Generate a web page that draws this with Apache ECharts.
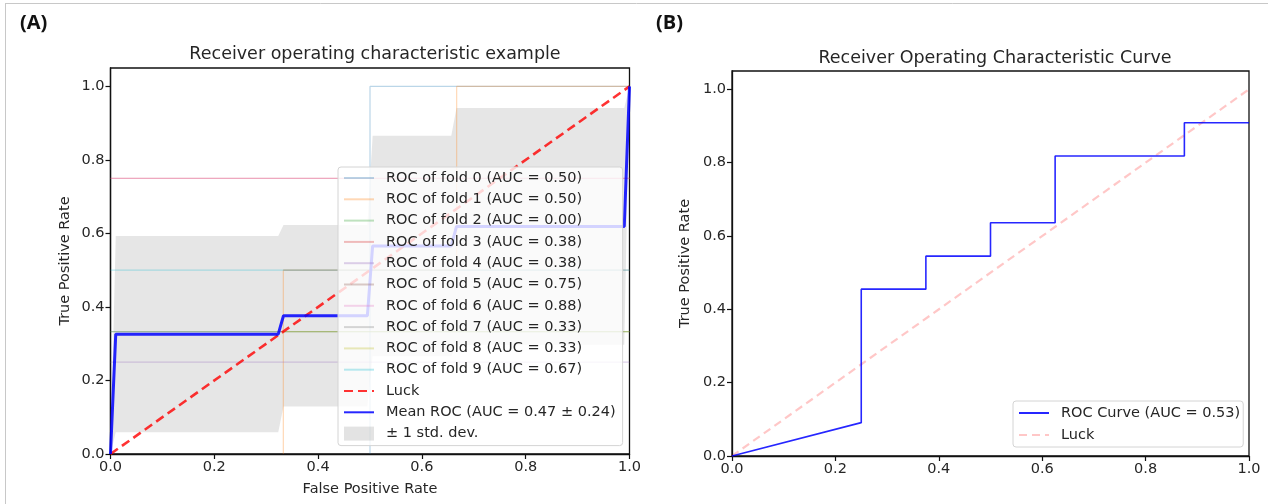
<!DOCTYPE html>
<html>
<head>
<meta charset="utf-8">
<script src="https://cdn.jsdelivr.net/npm/echarts@6/dist/echarts.min.js"></script>
<style>
  html, body { margin: 0; padding: 0; background: #fff; }
  #chart { width: 1276px; height: 504px; }
</style>
</head>
<body>
<div id="chart"></div>
<script>
// ---------- DATA ----------
const axisTicks = [0.0, 0.2, 0.4, 0.6, 0.8, 1.0];

// Panel A: per-fold ROC curves (FPR, TPR) pairs
const foldNames = [
  'ROC of fold 0 (AUC = 0.50)', 'ROC of fold 1 (AUC = 0.50)', 'ROC of fold 2 (AUC = 0.00)',
  'ROC of fold 3 (AUC = 0.38)', 'ROC of fold 4 (AUC = 0.38)', 'ROC of fold 5 (AUC = 0.75)',
  'ROC of fold 6 (AUC = 0.88)', 'ROC of fold 7 (AUC = 0.33)', 'ROC of fold 8 (AUC = 0.33)',
  'ROC of fold 9 (AUC = 0.67)'
];
const fold0 = [[0.5, 0], [0.5, 1], [1, 1]];
const fold1 = [[0.333, 0], [0.333, 0.5], [0.667, 0.5], [0.667, 1], [1, 1]];
const fold2 = [[0, 0.333], [1, 0.333]];
const fold3 = [[0, 0.75], [1, 0.75]];
const fold4 = [[0, 0.25], [1, 0.25]];
const fold5 = [[0.333, 0.5], [1, 0.5]];
const fold6 = [[0, 0.75], [1, 0.75]];
const fold7 = [[0, 0.333], [1, 0.333]];
const fold8 = [[0.333, 0.333], [1, 0.333]];
const fold9 = [[0, 0.5], [1, 0.5]];
const folds = [fold0, fold1, fold2, fold3, fold4, fold5, fold6, fold7, fold8, fold9];

// Mean ROC and +/- 1 std band
const meanFpr   = [0, 0.0101, 0.3232, 0.3333, 0.4949, 0.5051, 0.6566, 0.6667, 0.9899, 1.0];
const meanTpr   = [0, 0.326, 0.326, 0.376, 0.376, 0.566, 0.566, 0.619, 0.619, 1.0];
const upperTpr  = [0, 0.593, 0.593, 0.623, 0.623, 0.866, 0.866, 0.941, 0.941, 1.0];
const lowerTpr  = [0, 0.059, 0.059, 0.129, 0.129, 0.266, 0.266, 0.297, 0.297, 1.0];
const luckA = [[0, 0], [1, 1]];

// Panel B
const rocFprB = [0, 0.25, 0.25, 0.375, 0.375, 0.5, 0.5, 0.625, 0.625, 0.875, 0.875, 1.0];
const rocTprB = [0, 0.091, 0.455, 0.455, 0.545, 0.545, 0.636, 0.636, 0.818, 0.818, 0.909, 0.909];
const luckB = [[0, 0], [1, 1]];

// ---------- STYLE ----------
const FONT = 'DejaVu Sans';
const TXT = '#262626';
const FS = 14.5;
const foldColors = [
  'rgba(31,119,180,0.3)', 'rgba(255,127,14,0.3)', 'rgba(44,160,44,0.3)', 'rgba(214,39,40,0.3)',
  'rgba(148,103,189,0.3)', 'rgba(140,86,75,0.3)', 'rgba(227,119,194,0.3)', 'rgba(127,127,127,0.3)',
  'rgba(188,189,34,0.3)', 'rgba(23,190,207,0.3)'
];

function makeX(gridIndex, name) {
  return {
    type: 'value', gridIndex: gridIndex, min: 0, max: 1, interval: 0.2,
    name: name || '', nameLocation: 'middle', nameGap: 28,
    nameTextStyle: { fontFamily: FONT, fontSize: FS, color: TXT },
    axisLine: { show: true, onZero: false, lineStyle: { color: '#111', width: 1.3 } },
    axisTick: { show: true, inside: false, length: 5, lineStyle: { color: '#111', width: 1.2 }, customValues: axisTicks },
    axisLabel: { fontFamily: FONT, fontSize: FS, color: TXT, margin: 6, customValues: axisTicks,
                 formatter: v => v.toFixed(1) },
    splitLine: { show: false }
  };
}
function makeY(gridIndex, gap) {
  return {
    type: 'value', gridIndex: gridIndex, min: 0, max: 1.05,
    name: 'True Positive Rate', nameLocation: 'middle', nameGap: gap, nameRotate: 90,
    nameTextStyle: { fontFamily: FONT, fontSize: FS, color: TXT },
    axisLine: { show: true, onZero: false, lineStyle: { color: '#111', width: 1.3 } },
    axisTick: { show: true, inside: false, length: 5, lineStyle: { color: '#111', width: 1.2 }, customValues: axisTicks },
    axisLabel: { fontFamily: FONT, fontSize: FS, color: TXT, margin: 6, customValues: axisTicks,
                 formatter: v => v.toFixed(1) },
    splitLine: { show: false }
  };
}

const series = [];

// std band (custom polygon through axis scale)
series.push({
  name: '± 1 std. dev.', type: 'custom', xAxisIndex: 0, yAxisIndex: 0, z: 1,
  itemStyle: { color: 'rgba(128,128,128,0.2)' },
  data: [[0, 0]],
  clip: true,
  renderItem: function (params, api) {
    const pts = [];
    for (let i = 0; i < meanFpr.length; i++) pts.push(api.coord([meanFpr[i], upperTpr[i]]));
    for (let i = meanFpr.length - 1; i >= 0; i--) pts.push(api.coord([meanFpr[i], lowerTpr[i]]));
    return { type: 'polygon', shape: { points: pts }, style: { fill: 'rgba(128,128,128,0.2)' } };
  }
});

folds.forEach((f, i) => {
  series.push({
    name: foldNames[i], type: 'line', xAxisIndex: 0, yAxisIndex: 0, z: 2,
    data: f, symbol: 'none',
    itemStyle: { color: foldColors[i] },
    lineStyle: { color: foldColors[i], width: 1.2 }
  });
});

series.push({
  name: 'Luck', type: 'line', xAxisIndex: 0, yAxisIndex: 0, z: 3,
  data: luckA, symbol: 'none',
  itemStyle: { color: 'rgba(255,0,0,0.8)' },
  lineStyle: { color: 'rgba(255,0,0,0.8)', width: 2.6, type: [9, 5] }
});

series.push({
  name: 'Mean ROC (AUC = 0.47 ± 0.24)', type: 'line', xAxisIndex: 0, yAxisIndex: 0, z: 4,
  data: meanFpr.map((x, i) => [x, meanTpr[i]]), symbol: 'none',
  itemStyle: { color: 'rgba(0,0,255,0.85)' },
  lineStyle: { color: 'rgba(0,0,255,0.85)', width: 3 }
});

series.push({
  name: 'ROC Curve (AUC = 0.53)', type: 'line', xAxisIndex: 1, yAxisIndex: 1, z: 4,
  data: rocFprB.map((x, i) => [x, rocTprB[i]]), symbol: 'none',
  itemStyle: { color: 'rgba(0,0,255,0.85)' },
  lineStyle: { color: 'rgba(0,0,255,0.85)', width: 1.6 }
});

series.push({
  name: 'Luck ', type: 'line', xAxisIndex: 1, yAxisIndex: 1, z: 3,
  data: luckB, symbol: 'none',
  itemStyle: { color: 'rgba(255,0,0,0.22)' },
  lineStyle: { color: 'rgba(255,0,0,0.22)', width: 2.2, type: [8, 5] }
});

const legendCommon = {
  orient: 'vertical', itemWidth: 30, itemHeight: 14, itemGap: 5.3,
  backgroundColor: 'rgba(255,255,255,0.8)', borderColor: '#d4d4d4', borderWidth: 1, borderRadius: 3,
  itemStyle: { opacity: 0 },
  textStyle: { fontFamily: FONT, fontSize: FS, color: TXT, lineHeight: 16, padding: [0, 0, 0, 7] },
  formatter: n => n.trim(),
  selectedMode: false, z: 10
};

const option = {
  animation: false,
  backgroundColor: '#fff',
  title: [
    { text: '(A)', left: 15, top: 8, textStyle: { fontFamily: 'Liberation Sans Narrow, Open Sans', fontWeight: 'bold', fontSize: 20, color: '#111' } },
    { text: '(B)', left: 651, top: 8, textStyle: { fontFamily: 'Liberation Sans Narrow, Open Sans', fontWeight: 'bold', fontSize: 20, color: '#111' } },
    { text: 'Receiver operating characteristic example', left: 370, textAlign: 'center', top: 40,
      textStyle: { fontFamily: FONT, fontSize: 17.5, fontWeight: 'normal', color: TXT } },
    { text: 'Receiver Operating Characteristic Curve', left: 990, textAlign: 'center', top: 44,
      textStyle: { fontFamily: FONT, fontSize: 17.5, fontWeight: 'normal', color: TXT } }
  ],
  grid: [
    { left: 110.5, top: 68, width: 519, height: 386, show: true, borderColor: '#111', borderWidth: 1.3, backgroundColor: 'transparent' },
    { left: 732, top: 71, width: 517, height: 385, show: true, borderColor: '#111', borderWidth: 1.3, backgroundColor: 'transparent' }
  ],
  xAxis: [makeX(0, 'False Positive Rate'), makeX(1, '')],
  yAxis: [makeY(0, 38), makeY(1, 39)],
  legend: [
    Object.assign({}, legendCommon, {
      left: 338, top: 167, padding: [3, 7, 4, 5],
      data: foldNames.concat(['Luck', 'Mean ROC (AUC = 0.47 ± 0.24)',
        { name: '± 1 std. dev.', icon: 'rect', itemStyle: { opacity: 1, color: 'rgba(128,128,128,0.22)' } }])
    }),
    Object.assign({}, legendCommon, {
      left: 1013, top: 401, padding: [4, 3, 4, 5], itemGap: 6,
      data: ['ROC Curve (AUC = 0.53)', 'Luck ']
    })
  ],
  graphic: [
    { type: 'line', shape: { x1: 5, y1: 3.5, x2: 1268, y2: 3.5 }, style: { stroke: '#c8c8c8', lineWidth: 1 }, silent: true },
    { type: 'line', shape: { x1: 5.5, y1: 3, x2: 5.5, y2: 504 }, style: { stroke: '#c8c8c8', lineWidth: 1 }, silent: true }
  ],
  series: series
};

const chart = echarts.init(document.getElementById('chart'), null, { renderer: 'canvas' });
chart.setOption(option);
</script>
</body>
</html>
